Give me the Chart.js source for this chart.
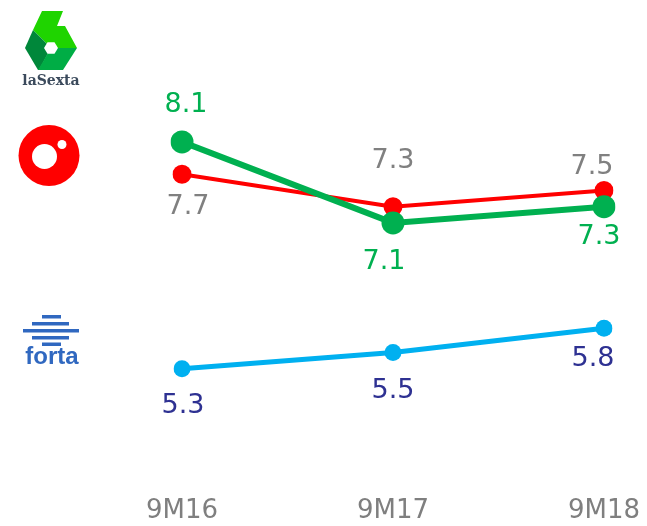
<!DOCTYPE html>
<html>
<head>
<meta charset="utf-8">
<script src="https://cdn.jsdelivr.net/npm/chart.js@4/dist/chart.umd.min.js"></script>
<style>
html,body{margin:0;padding:0;background:#fff;}
#wrap{width:647px;height:526px;position:relative;}
</style>
</head>
<body>
<div id="wrap"><canvas id="c" width="647" height="526"></canvas></div>
<script>
// Data
const categories = ['9M16', '9M17', '9M18'];
const laSexta = [8.1, 7.1, 7.3];
const antena3 = [7.7, 7.3, 7.5];
const forta = [5.3, 5.5, 5.8];

// label offsets (px) relative to each point: [dx, dy]
const labelOffsets = [
  [[4, -37], [-9, 39], [-5, 30]],
  [[6, 33], [0, -46], [-12, -24]],
  [[1, 37], [0, 38], [-11, 31]]
];
const labelColors = ['#00b050', '#808080', '#2e3192'];

const labelPlugin = {
  id: 'pointLabels',
  afterDatasetsDraw(chart) {
    const ctx = chart.ctx;
    ctx.save();
    ctx.font = '27px "DejaVu Sans"';
    ctx.textAlign = 'center';
    ctx.textBaseline = 'middle';
    chart.data.datasets.forEach((ds, i) => {
      const meta = chart.getDatasetMeta(i);
      meta.data.forEach((pt, j) => {
        const off = labelOffsets[i][j];
        ctx.fillStyle = labelColors[i];
        ctx.fillText(ds.data[j].toFixed(1), pt.x + off[0], pt.y + off[1]);
      });
    });
    ctx.restore();
  }
};

const logoPlugin = {
  id: 'logos',
  afterDraw(chart) {
    const ctx = chart.ctx;
    ctx.save();
    const poly = (pts, color) => {
      ctx.beginPath();
      ctx.moveTo(pts[0][0], pts[0][1]);
      for (let k = 1; k < pts.length; k++) ctx.lineTo(pts[k][0], pts[k][1]);
      ctx.closePath();
      ctx.fillStyle = color;
      ctx.fill();
    };
    // laSexta logo
    poly([[42,11],[63,11],[57,26],[65,26],[77,48],[51,48],[33,30]], '#1fd400');
    poly([[33,30],[51,48],[39,70],[38,70],[25,48]], '#00873a');
    poly([[51,48],[77,48],[63,70],[38,70]], '#00ad45');
    ctx.beginPath();
    for (let k = 0; k < 6; k++) {
      const a = Math.PI / 3 * k;
      const x = 51 + 7 * Math.cos(a), y = 48 + 6.5 * Math.sin(a);
      if (k === 0) ctx.moveTo(x, y); else ctx.lineTo(x, y);
    }
    ctx.closePath();
    ctx.fillStyle = '#ffffff';
    ctx.fill();
    ctx.fillStyle = '#3b4a5c';
    ctx.font = 'bold 14px "DejaVu Serif"';
    ctx.textAlign = 'center';
    ctx.textBaseline = 'alphabetic';
    ctx.fillText('laSexta', 51, 85);

    // antena3 logo
    ctx.beginPath();
    ctx.arc(49, 155.5, 30.5, 0, Math.PI * 2);
    ctx.fillStyle = '#ff0000';
    ctx.fill();
    ctx.beginPath();
    ctx.arc(44.5, 156.5, 12.5, 0, Math.PI * 2);
    ctx.fillStyle = '#ffffff';
    ctx.fill();
    ctx.beginPath();
    ctx.arc(62, 144.5, 4.5, 0, Math.PI * 2);
    ctx.fill();

    // forta logo
    ctx.fillStyle = '#3068c0';
    ctx.fillRect(42, 315, 19, 3.5);
    ctx.fillRect(32, 322, 37, 3.5);
    ctx.fillRect(23, 329, 56, 3.5);
    ctx.fillRect(32, 336, 37, 3.5);
    ctx.fillRect(42, 342.5, 19, 3.5);
    ctx.font = 'bold 24px "Liberation Sans"';
    ctx.textAlign = 'center';
    ctx.fillText('forta', 52, 364);
    ctx.restore();
  }
};

new Chart(document.getElementById('c'), {
  type: 'line',
  data: {
    labels: categories,
    datasets: [
      { label: 'laSexta', data: laSexta, borderColor: '#00b050', backgroundColor: '#00b050',
        borderWidth: 6, pointRadius: 11.5, pointBorderWidth: 0, tension: 0 },
      { label: 'Antena 3', data: antena3, borderColor: '#ff0000', backgroundColor: '#ff0000',
        borderWidth: 4, pointRadius: 9.5, pointBorderWidth: 0, tension: 0 },
      { label: 'FORTA', data: forta, borderColor: '#00b0f0', backgroundColor: '#00b0f0',
        borderWidth: 5, pointRadius: 8.5, pointBorderWidth: 0, tension: 0 }
    ]
  },
  options: {
    responsive: false,
    animation: false,
    devicePixelRatio: 1,
    layout: { padding: { left: 182, right: 43, top: 69, bottom: 0 } },
    plugins: { legend: { display: false }, tooltip: { enabled: false } },
    scales: {
      x: {
        offset: false,
        grid: { display: false, drawTicks: false },
        border: { display: false },
        ticks: { color: '#7f7f7f', font: { family: 'DejaVu Sans', size: 26 }, padding: 22, maxRotation: 0, autoSkip: false },
        afterFit: (s) => { s.height = 52; s.paddingLeft = 0; s.paddingRight = 0; }
      },
      y: {
        display: false,
        min: 4,
        max: 9
      }
    }
  },
  plugins: [labelPlugin, logoPlugin]
});
</script>
</body>
</html>
